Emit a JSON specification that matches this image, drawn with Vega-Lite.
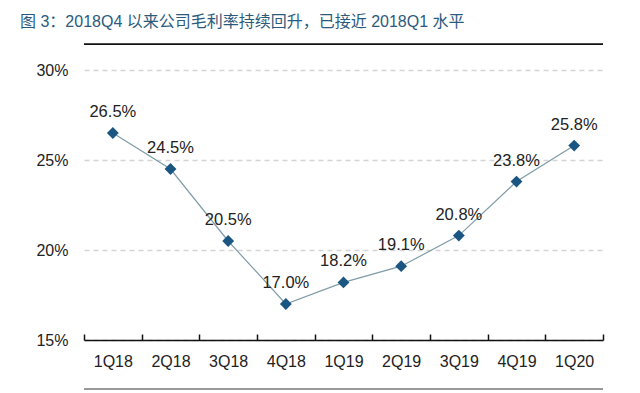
{
  "$schema": "https://vega.github.io/schema/vega-lite/v6.json",
  "width": 519,
  "height": 270,
  "autosize": {"type": "none"},
  "padding": {"left": 84, "top": 70, "right": 37, "bottom": 53},
  "background": "white",
  "config": {"view": {"stroke": null}, "font": "Liberation Sans"},
  "title": {
    "text": "图 3：2018Q4 以来公司毛利率持续回升，已接近 2018Q1 水平",
    "anchor": "start",
    "frame": "group",
    "dx": -64,
    "offset": 0,
    "baseline": "alphabetic",
    "font": "Liberation Sans, Noto Sans CJK SC",
    "fontSize": 16,
    "fontWeight": "normal",
    "color": "#2b5b7c"
  },
  "datasets": {
    "margin": [
      {"q": "1Q18", "v": 0.265},
      {"q": "2Q18", "v": 0.245},
      {"q": "3Q18", "v": 0.205},
      {"q": "4Q18", "v": 0.170},
      {"q": "1Q19", "v": 0.182},
      {"q": "2Q19", "v": 0.191},
      {"q": "3Q19", "v": 0.208},
      {"q": "4Q19", "v": 0.238},
      {"q": "1Q20", "v": 0.258}
    ],
    "rules": [
      {"y": 0.3144, "kind": "top"},
      {"y": 0.1228, "kind": "bottom"}
    ]
  },
  "layer": [
    {
      "data": {"name": "margin"},
      "mark": {"type": "line", "color": "#7f9ca8", "strokeWidth": 1.2},
      "encoding": {
        "x": {
          "field": "q", "type": "ordinal", "sort": null, "title": null,
          "scale": {"paddingInner": 0, "paddingOuter": 0},
          "axis": {
            "labelAngle": 0, "labelFontSize": 16, "labelColor": "#222",
            "domainColor": "#111", "domainWidth": 1.5,
            "tickColor": "#111", "tickWidth": 1.5, "tickSize": -6, "tickBand": "extent",
            "labelPadding": 19
          }
        },
        "y": {
          "field": "v", "type": "quantitative", "title": null,
          "scale": {"domain": [0.15, 0.30], "nice": false, "zero": false},
          "axis": {
            "values": [0.15, 0.2, 0.25, 0.3], "format": ".0%",
            "labelFontSize": 16, "labelColor": "#222", "labelPadding": 16,
            "ticks": false, "domain": false,
            "gridColor": "#d4d4d4", "gridWidth": 1.5, "gridDash": [5, 4]
          }
        }
      }
    },
    {
      "data": {"name": "margin"},
      "mark": {"type": "point", "shape": "diamond", "filled": true, "size": 140, "color": "#1b5683", "opacity": 1},
      "encoding": {
        "x": {"field": "q", "type": "ordinal", "sort": null},
        "y": {"field": "v", "type": "quantitative"}
      }
    },
    {
      "data": {"name": "margin"},
      "mark": {"type": "text", "fontSize": 16.5, "color": "#222", "dy": -16, "baseline": "alphabetic"},
      "encoding": {
        "x": {"field": "q", "type": "ordinal", "sort": null},
        "y": {"field": "v", "type": "quantitative"},
        "text": {"field": "v", "type": "quantitative", "format": ".1%"}
      }
    },
    {
      "data": {"name": "rules"},
      "transform": [{"filter": "datum.kind == 'top'"}],
      "mark": {"type": "rule", "color": "#111", "strokeWidth": 1.8},
      "encoding": {"y": {"field": "y", "type": "quantitative"}}
    },
    {
      "data": {"name": "rules"},
      "transform": [{"filter": "datum.kind == 'bottom'"}],
      "mark": {"type": "rule", "color": "#999", "strokeWidth": 2},
      "encoding": {"y": {"field": "y", "type": "quantitative"}}
    }
  ]
}
